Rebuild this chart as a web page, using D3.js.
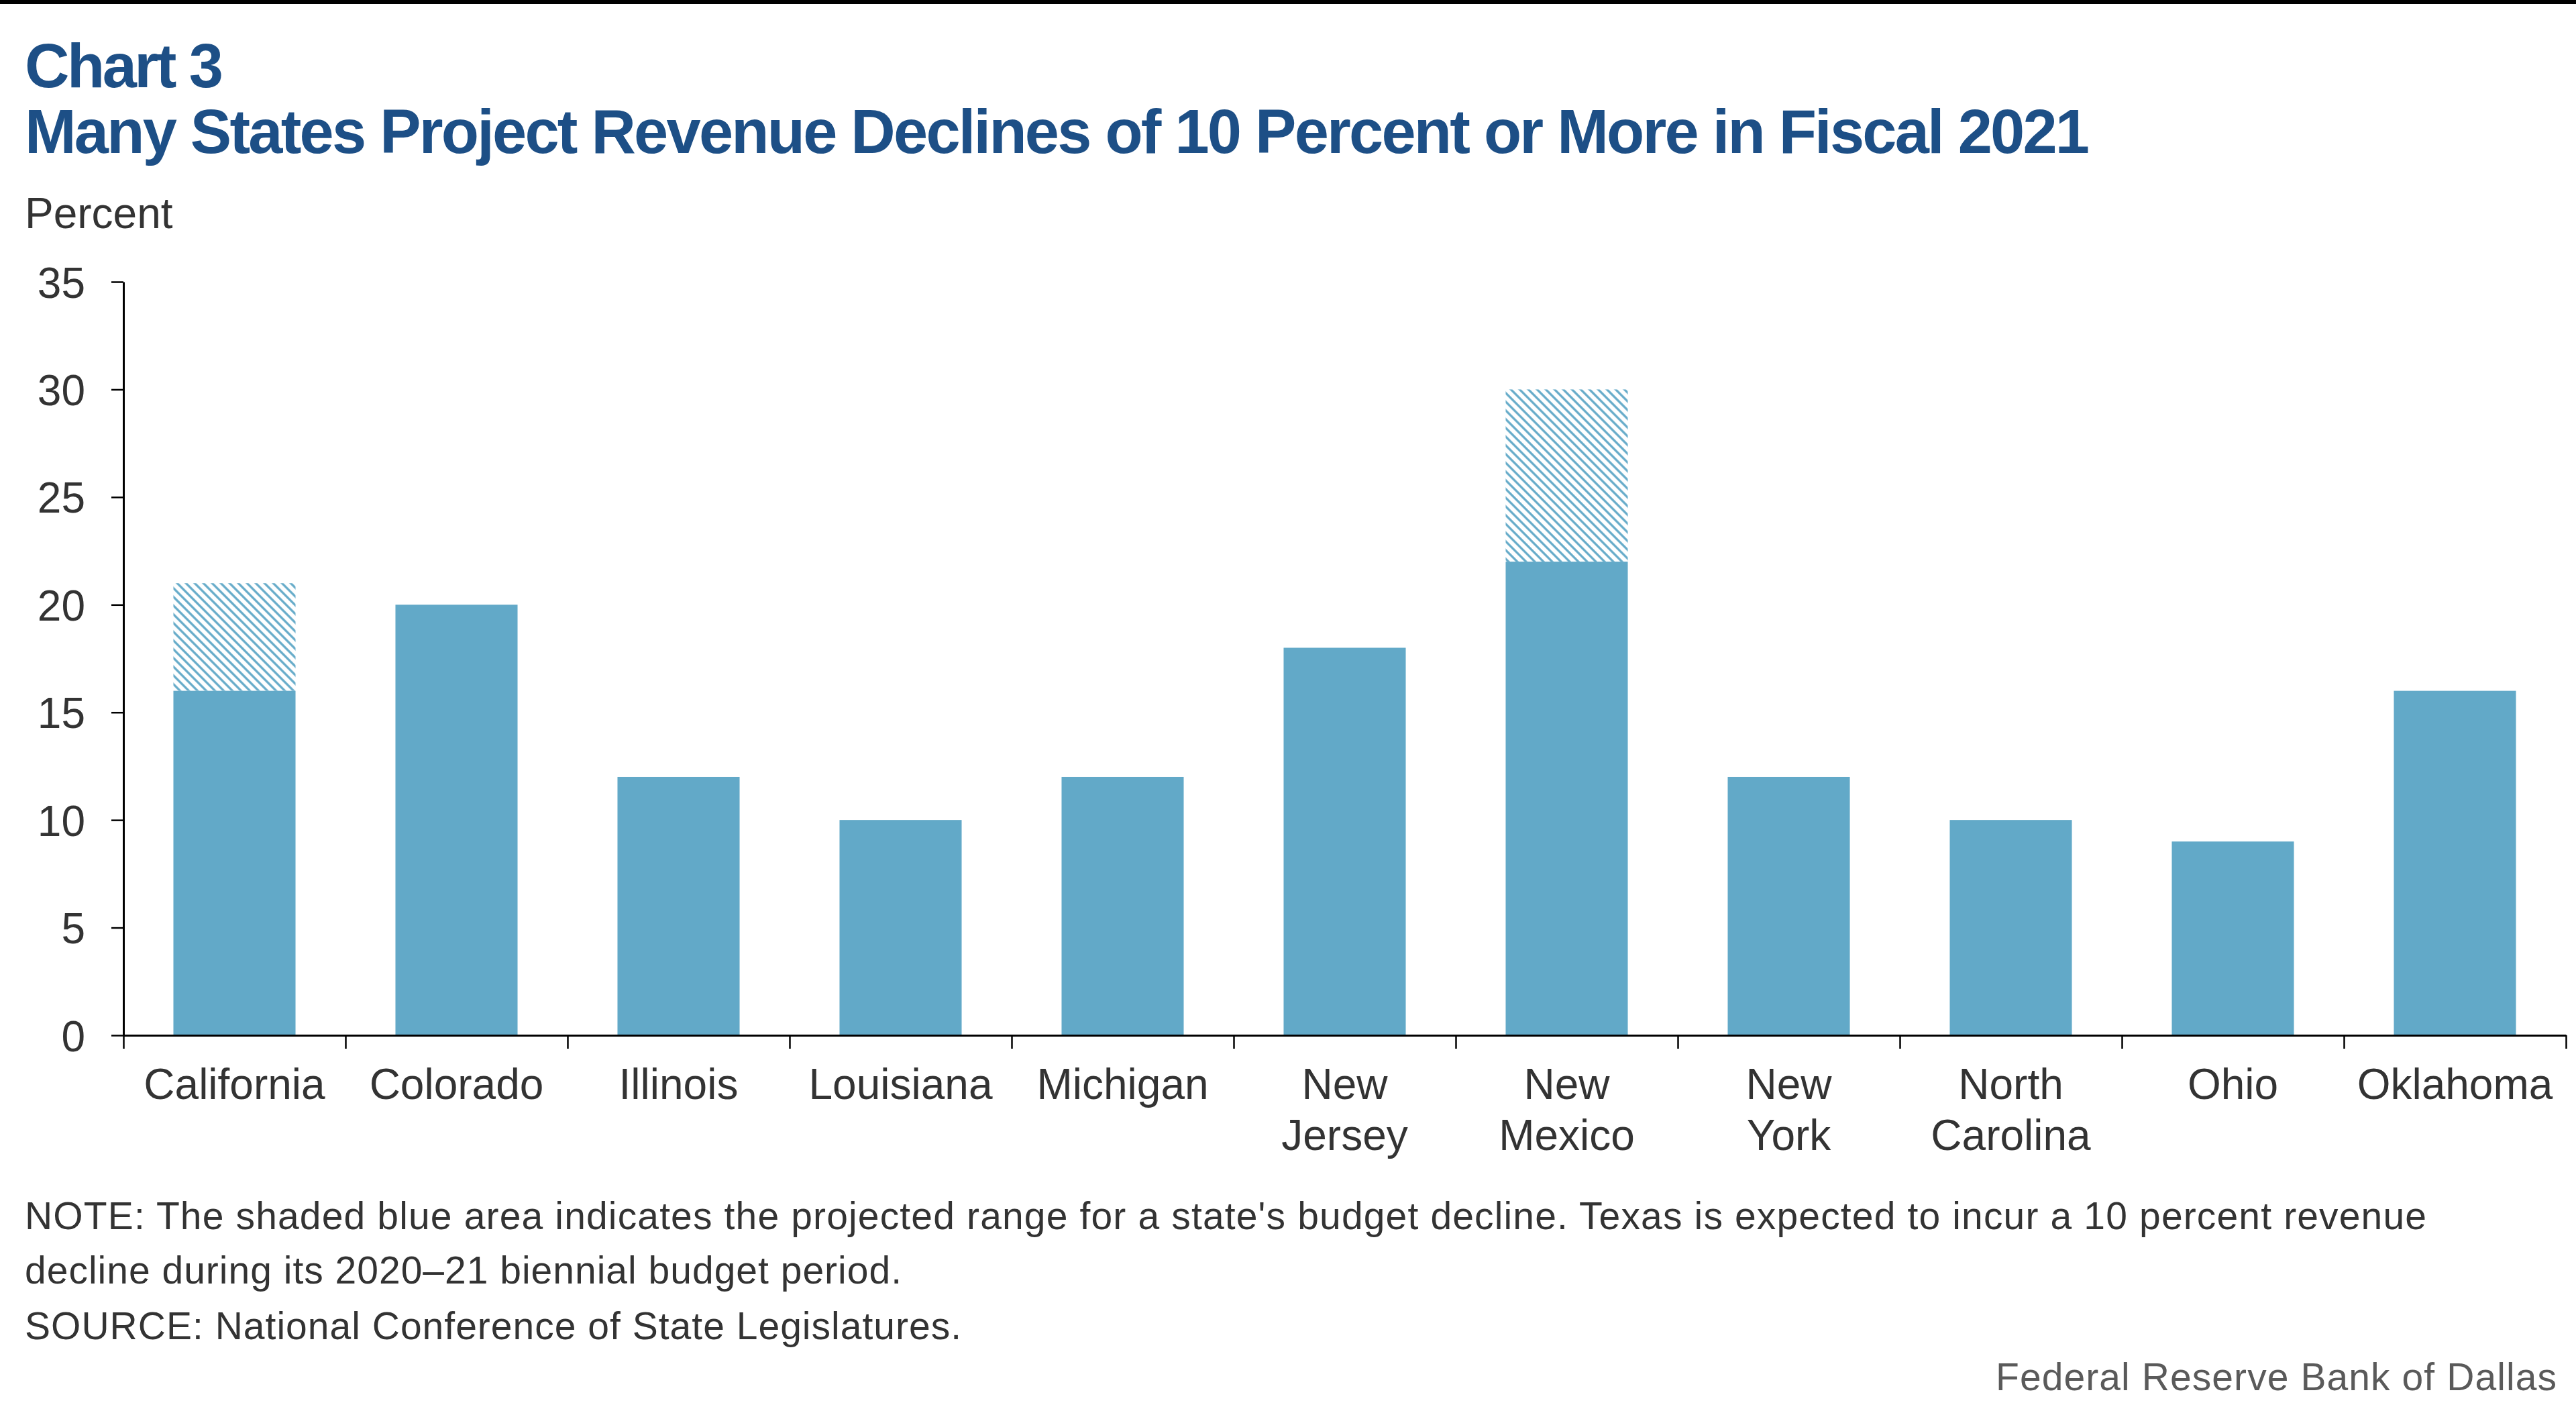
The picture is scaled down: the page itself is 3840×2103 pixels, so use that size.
<!DOCTYPE html>
<html>
<head>
<meta charset="utf-8">
<script src="https://cdn.jsdelivr.net/npm/d3@7"></script>
<style>
  html, body { margin: 0; padding: 0; background: #ffffff; }
  svg { display: block; }
</style>
</head>
<body>
<svg id="chart" width="3840" height="2103"></svg>
<script>
// ---------- DATA ----------
const categories = ["California", "Colorado", "Illinois", "Louisiana", "Michigan", "New Jersey",
                    "New Mexico", "New York", "North Carolina", "Ohio", "Oklahoma"];
const baseValues = [16, 20, 12, 10, 12, 18, 22, 12, 10, 9, 16];
const rangeHighValues = [21, null, null, null, null, null, 30, null, null, null, null];
const yTickValues = [0, 5, 10, 15, 20, 25, 30, 35];
const titleLines = ["Chart 3", "Many States Project Revenue Declines of 10 Percent or More in Fiscal 2021"];
const yAxisTitle = "Percent";
const noteLines = [
  "NOTE: The shaded blue area indicates the projected range for a state's budget decline. Texas is expected to incur a 10 percent revenue",
  "decline during its 2020\u201321 biennial budget period.",
  "SOURCE: National Conference of State Legislatures."
];
const creditText = "Federal Reserve Bank of Dallas";

// ---------- STYLE / LAYOUT ----------
const FONT = "'Liberation Sans', Arial, Helvetica, sans-serif";
const BAR_COLOR = "#62a9c8";
const TITLE_COLOR = "#1d4f86";
const TEXT_COLOR = "#333333";
const plot = { left: 184, right: 3825, top: 420, bottom: 1543 };

const svg = d3.select("#chart");
svg.append("rect").attr("x", 0).attr("y", 0).attr("width", 3840).attr("height", 2103).attr("fill", "#fff");
svg.append("rect").attr("x", 0).attr("y", 0).attr("width", 3840).attr("height", 6).attr("fill", "#000");

function fit(sel, target, mode) {
  const w = sel.node().getComputedTextLength();
  if (Math.abs(w - target) / target > 0.005) {
    sel.attr("textLength", target).attr("lengthAdjust", mode || "spacing");
  }
}

// Titles
const t1 = svg.append("text").attr("x", 37).attr("y", 130)
  .attr("font-family", FONT).attr("font-weight", "bold").attr("font-size", 92)
  .attr("fill", TITLE_COLOR).text(titleLines[0]);
fit(t1, 296);
const t2 = svg.append("text").attr("x", 37).attr("y", 228)
  .attr("font-family", FONT).attr("font-weight", "bold").attr("font-size", 92)
  .attr("fill", TITLE_COLOR).text(titleLines[1]);
fit(t2, 3078);

svg.append("text").attr("x", 37).attr("y", 340)
  .attr("font-family", FONT).attr("font-size", 64).attr("fill", TEXT_COLOR)
  .text(yAxisTitle);

// Scales
const x = d3.scaleBand().domain(categories).range([plot.left, plot.right]).padding(0);
const y = d3.scaleLinear().domain([0, 35]).range([plot.bottom, plot.top]);
const barW = x.bandwidth() * 0.55;

// Hatch pattern
const defs = svg.append("defs");
const pat = defs.append("pattern").attr("id", "hatch")
  .attr("patternUnits", "userSpaceOnUse").attr("width", 9.2).attr("height", 9.2)
  .attr("patternTransform", "rotate(45)");
pat.append("line").attr("x1", 0).attr("y1", 4.6).attr("x2", 9.2).attr("y2", 4.6)
  .attr("stroke", BAR_COLOR).attr("stroke-width", 3.2);

const data = categories.map((c, i) => ({ cat: c, base: baseValues[i], high: rangeHighValues[i] }));

// Hatched range
svg.append("g").selectAll("rect").data(data.filter(d => d.high != null)).join("rect")
  .attr("x", d => x(d.cat) + (x.bandwidth() - barW) / 2)
  .attr("width", barW)
  .attr("y", d => y(d.high))
  .attr("height", d => y(d.base) - y(d.high))
  .attr("fill", "url(#hatch)");

// Solid bars
svg.append("g").selectAll("rect").data(data).join("rect")
  .attr("x", d => x(d.cat) + (x.bandwidth() - barW) / 2)
  .attr("width", barW)
  .attr("y", d => y(d.base))
  .attr("height", d => y(0) - y(d.base))
  .attr("fill", BAR_COLOR);

// Y axis
const yAxis = svg.append("g").attr("transform", `translate(${plot.left},0)`)
  .call(d3.axisLeft(y).tickValues(yTickValues).tickSize(18).tickPadding(39).tickSizeOuter(0));
yAxis.select(".domain").attr("stroke", "#000").attr("stroke-width", 3);
yAxis.selectAll(".tick line").attr("stroke", "#000").attr("stroke-width", 2.5);
yAxis.selectAll(".tick text").attr("font-family", FONT).attr("font-size", 64)
  .attr("fill", TEXT_COLOR).attr("dy", "0.36em");

// X axis: ticks at category boundaries
const xb = d3.scaleLinear().domain([0, categories.length]).range([plot.left, plot.right]);
const xAxis = svg.append("g").attr("transform", `translate(0,${plot.bottom})`)
  .call(d3.axisBottom(xb).tickValues(d3.range(categories.length + 1)).tickSize(20).tickSizeOuter(0).tickFormat(""));
xAxis.select(".domain").attr("stroke", "#000").attr("stroke-width", 3);
xAxis.selectAll(".tick line").attr("stroke", "#000").attr("stroke-width", 2.5);

// X labels
const lbl = svg.append("g").selectAll("text").data(categories).join("text")
  .attr("x", d => x(d) + x.bandwidth() / 2)
  .attr("y", 1638)
  .attr("text-anchor", "middle")
  .attr("font-family", FONT).attr("font-size", 64).attr("fill", TEXT_COLOR);
lbl.each(function(d) {
  const parts = d.split(" ");
  const t = d3.select(this);
  parts.forEach((p, k) => {
    t.append("tspan").attr("x", x(d) + x.bandwidth() / 2).attr("dy", k === 0 ? 0 : 76).text(p);
  });
});

// Notes
const noteY = [1832, 1913, 1996];
const noteW = [3580, 1307, 1396];
noteLines.forEach((s, i) => {
  const t = svg.append("text").attr("x", 37).attr("y", noteY[i])
    .attr("font-family", FONT).attr("font-size", 57).attr("fill", TEXT_COLOR).text(s);
  fit(t, noteW[i]);
});
const cr = svg.append("text").attr("x", 3811).attr("y", 2072).attr("text-anchor", "end")
  .attr("font-family", FONT).attr("font-size", 57).attr("fill", "#5a5a5a").text(creditText);
fit(cr, 836);
</script>
</body>
</html>
